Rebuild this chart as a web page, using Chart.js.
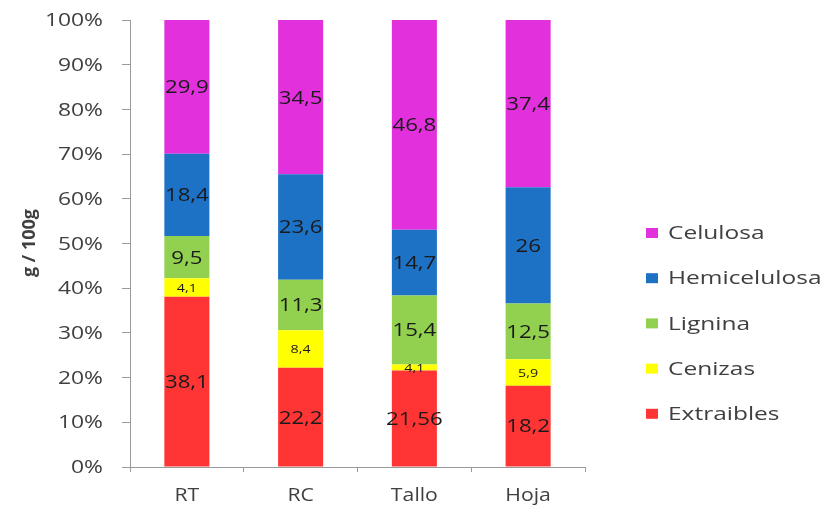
<!DOCTYPE html>
<html>
<head>
<meta charset="utf-8">
<script src="https://cdn.jsdelivr.net/npm/chart.js@4"></script>
<style>
html,body{margin:0;padding:0;background:#fff;}
#wrap{width:824px;height:512px;position:relative;}
</style>
</head>
<body>
<div id="wrap"><canvas id="c" width="824" height="512"></canvas></div>
<script>
const categories = ['RT', 'RC', 'Tallo', 'Hoja'];
const seriesNames = ['Extraibles', 'Cenizas', 'Lignina', 'Hemicelulosa', 'Celulosa'];
const extraibles   = [38.1, 22.2, 21.56, 18.2];
const cenizas      = [4.1, 8.4, 1.3, 5.9];
const lignina      = [9.5, 11.3, 15.4, 12.5];
const hemicelulosa = [18.4, 23.6, 14.7, 26];
const celulosa     = [29.9, 34.5, 46.8, 37.4];
const extraiblesLabels   = ['38,1', '22,2', '21,56', '18,2'];
const cenizasLabels      = ['4,1', '8,4', '4,1', '5,9'];
const ligninaLabels      = ['9,5', '11,3', '15,4', '12,5'];
const hemicelulosaLabels = ['18,4', '23,6', '14,7', '26'];
const celulosaLabels     = ['29,9', '34,5', '46,8', '37,4'];
const yTicks = [0, 10, 20, 30, 40, 50, 60, 70, 80, 90, 100];
const yTitle = 'g / 100g';

const raw = [extraibles, cenizas, lignina, hemicelulosa, celulosa];
const labelSets = [extraiblesLabels, cenizasLabels, ligninaLabels, hemicelulosaLabels, celulosaLabels];
const colors = ['#FF3535', '#FFFF00', '#92D050', '#1E72C6', '#E231DC'];
const smallLabel = [false, true, false, false, false];

const totals = categories.map((_, i) => raw.reduce((s, a) => s + a[i], 0));
const pct = raw.map(a => a.map((v, i) => v / totals[i] * 100));

const datasets = seriesNames.map((n, k) => ({
  label: n,
  data: pct[k],
  backgroundColor: colors[k],
  borderWidth: 0,
  categoryPercentage: 1.0,
  barPercentage: 0.396
}));

const FONT = '"Open Sans", sans-serif';
const SX = 1.27;
function stretchText(ctx, text, x, y, align, font, color, sx) {
  ctx.save();
  ctx.translate(x, y);
  ctx.scale(sx, 1);
  ctx.font = font;
  ctx.fillStyle = color;
  ctx.textAlign = align;
  ctx.textBaseline = 'middle';
  ctx.fillText(text, 0, 0);
  ctx.restore();
}

const textPlugin = {
  id: 'textPlugin',
  afterDraw(chart) {
    const ctx = chart.ctx;
    const ys = chart.scales.y, xs = chart.scales.x;
    yTicks.forEach(v => {
      stretchText(ctx, v + '%', 103, ys.getPixelForValue(v) + 1, 'right', '18px ' + FONT, '#404040', SX);
    });
    categories.forEach((c, i) => {
      stretchText(ctx, c, xs.getPixelForValue(i), 496, 'center', '18px ' + FONT, '#404040', 1.18);
    });
    ctx.save();
    ctx.translate(30, 243);
    ctx.rotate(-Math.PI / 2);
    ctx.font = 'bold 18px ' + FONT;
    ctx.fillStyle = '#404040';
    ctx.textAlign = 'center';
    ctx.textBaseline = 'middle';
    ctx.fillText(yTitle, 0, 0);
    ctx.restore();
    chart.data.datasets.forEach((ds, k) => {
      chart.getDatasetMeta(k).data.forEach((el, i) => {
        const y = (el.y + el.base) / 2 + 1;
        stretchText(ctx, labelSets[k][i], el.x, y,
          'center', (smallLabel[k] ? '11px ' : '19px ') + FONT, '#1a1a1a', smallLabel[k] ? 1.3 : 1.17);
      });
    });
    const n = chart.data.datasets.length;
    for (let j = 0; j < n; j++) {
      const k = n - 1 - j;
      const ds = chart.data.datasets[k];
      const y = 233 + j * 45.2;
      ctx.fillStyle = ds.backgroundColor;
      ctx.fillRect(646, y - 5, 12, 10);
      stretchText(ctx, ds.label, 668, y + 1, 'left', '18px ' + FONT, '#404040', 1.36);
    }
  }
};

new Chart(document.getElementById('c'), {
  type: 'bar',
  data: { labels: categories, datasets },
  options: {
    responsive: false,
    animation: false,
    devicePixelRatio: 1,
    layout: { padding: { left: 0, right: 239, top: 20, bottom: 0 } },
    plugins: { legend: { display: false }, tooltip: { enabled: false } },
    scales: {
      x: {
        stacked: true,
        offset: true,
        afterFit(s) { s.height = 45; },
        grid: { display: true, drawOnChartArea: false, drawTicks: true, tickLength: 5, color: '#9a9a9a', offset: true },
        border: { display: true, color: '#9a9a9a', width: 1 },
        ticks: { display: false }
      },
      y: {
        stacked: true,
        min: 0, max: 100,
        afterFit(s) { s.width = 130; },
        afterBuildTicks(axis) { axis.ticks = yTicks.map(v => ({ value: v })); },
        grid: { display: true, drawOnChartArea: false, drawTicks: true, tickLength: 8, color: '#9a9a9a' },
        border: { display: true, color: '#9a9a9a', width: 1 },
        ticks: { display: false }
      }
    }
  },
  plugins: [textPlugin]
});
</script>
</body>
</html>
